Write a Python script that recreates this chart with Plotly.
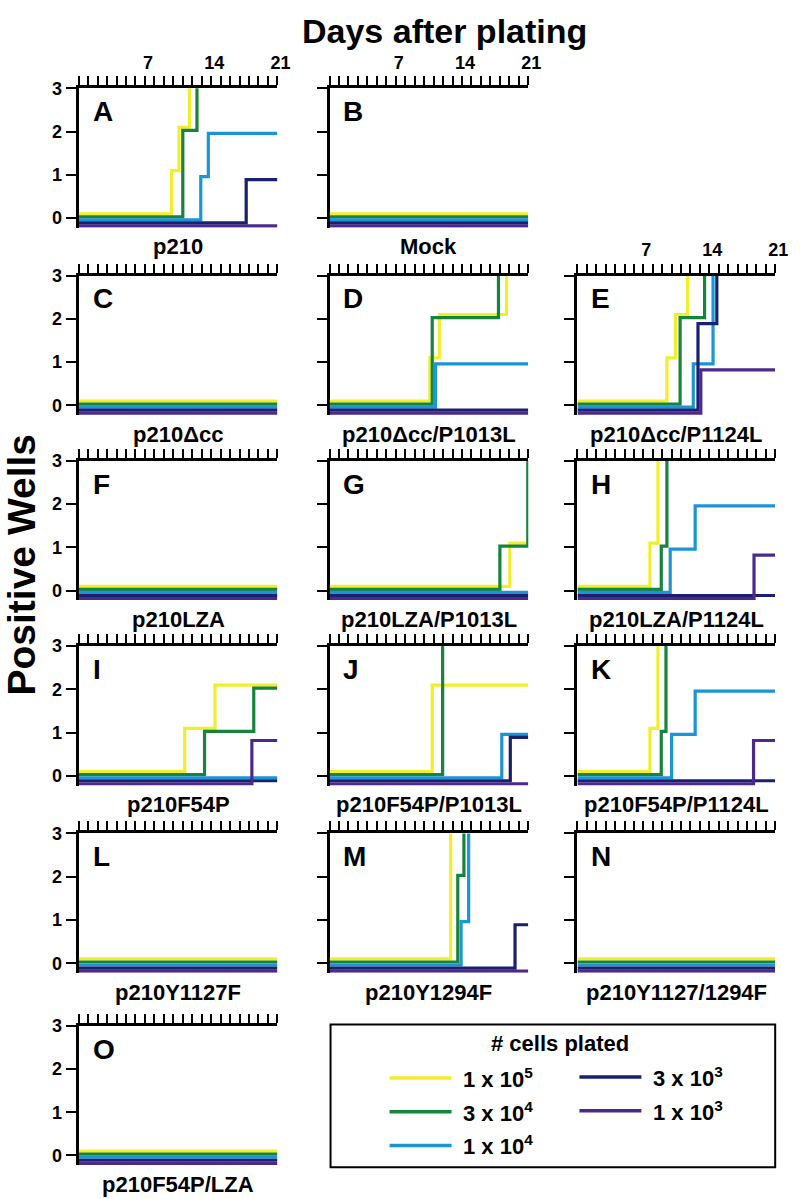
import plotly.graph_objects as go

W, H = 800, 1199

# ---------------- data ----------------
series_names = ["1 x 10<sup>5</sup>", "3 x 10<sup>4</sup>", "1 x 10<sup>4</sup>",
                "3 x 10<sup>3</sup>", "1 x 10<sup>3</sup>"]
series_colors = ["#f3ee2c", "#16843c", "#1c95d6", "#1a206e", "#4c2a8b"]

panel_letters = list("ABCDEFGHIJKLMNO")
panel_titles = ["p210", "Mock", "p210\u0394cc", "p210\u0394cc/P1013L", "p210\u0394cc/P1124L",
                "p210LZA", "p210LZA/P1013L", "p210LZA/P1124L",
                "p210F54P", "p210F54P/P1013L", "p210F54P/P1124L",
                "p210Y1127F", "p210Y1294F", "p210Y1127/1294F", "p210F54P/LZA"]

day_ticks = list(range(0, 22))
day_labels = [7, 14, 21]
well_ticks = [0, 1, 2, 3]
last_day = 21
max_wells = 3

# per panel, per series (1e5, 3e4, 1e4, 3e3, 1e3):
# days on which the positive-well count changes, and the count from that day on
A_days = [[0, 9.8, 10.6, 11.7], [0, 11.0, 12.5], [0, 12.9, 13.7], [0, 17.7], [0]]
A_counts = [[0, 1, 2, 3], [0, 2, 3], [0, 1, 2], [0, 1], [0]]
B_days = [[0], [0], [0], [0], [0]]
B_counts = [[0], [0], [0], [0], [0]]
C_days = [[0], [0], [0], [0], [0]]
C_counts = [[0], [0], [0], [0], [0]]
D_days = [[0, 10.6, 11.6, 18.7], [0, 10.85, 17.85], [0, 11.2], [0], [0]]
D_counts = [[0, 1, 2, 3], [0, 2, 3], [0, 1], [0], [0]]
E_days = [[0, 9.5, 10.4, 11.7], [0, 10.9, 13.5], [0, 12.3, 14.4], [0, 12.8, 14.8], [0, 13.1]]
E_counts = [[0, 1, 2, 3], [0, 2, 3], [0, 1, 3], [0, 2, 3], [0, 1]]
F_days = [[0], [0], [0], [0], [0]]
F_counts = [[0], [0], [0], [0], [0]]
G_days = [[0, 19.05], [0, 18.0, 20.95], [0], [0], [0]]
G_counts = [[0, 1], [0, 1, 3], [0], [0], [0]]
H_days = [[0, 7.7, 8.55], [0, 8.9, 9.5], [0, 9.85, 12.5], [0], [0, 18.75]]
H_counts = [[0, 1, 3], [0, 1, 3], [0, 1, 2], [0], [0, 1]]
I_days = [[0, 11.2, 14.4], [0, 13.3, 18.5], [0], [0], [0, 18.3]]
I_counts = [[0, 1, 2], [0, 1, 2], [0], [0], [0, 1]]
J_days = [[0, 10.85], [0, 11.95], [0, 18.2], [0, 19.1], [0]]
J_counts = [[0, 2], [0, 3], [0, 1], [0, 1], [0]]
K_days = [[0, 7.7, 8.55], [0, 8.9, 9.4], [0, 10.0, 12.5], [0], [0, 18.7]]
K_counts = [[0, 1, 3], [0, 1, 3], [0, 1, 2], [0], [0, 1]]
L_days = [[0], [0], [0], [0], [0]]
L_counts = [[0], [0], [0], [0], [0]]
M_days = [[0, 12.8], [0, 13.55, 14.2], [0, 13.9, 14.7], [0, 19.6], [0]]
M_counts = [[0, 3], [0, 2, 3], [0, 1, 3], [0, 1], [0]]
N_days = [[0], [0], [0], [0], [0]]
N_counts = [[0], [0], [0], [0], [0]]
O_days = [[0], [0], [0], [0], [0]]
O_counts = [[0], [0], [0], [0], [0]]

panel_days = [A_days, B_days, C_days, D_days, E_days, F_days, G_days, H_days,
              I_days, J_days, K_days, L_days, M_days, N_days, O_days]
panel_counts = [A_counts, B_counts, C_counts, D_counts, E_counts, F_counts, G_counts,
                H_counts, I_counts, J_counts, K_counts, L_counts, M_counts, N_counts, O_counts]

# ---------------- layout / style ----------------
panel_cells = [(0, 0), (0, 1), (1, 0), (1, 1), (1, 2), (2, 0), (2, 1), (2, 2),
               (3, 0), (3, 1), (3, 2), (4, 0), (4, 1), (4, 2), (5, 0)]
col_left = [80, 335, 587]
col_right = [282, 537, 788]
row_top = [79, 268, 455, 642, 831, 1025]
unit_px = 43.7
y_min = -0.22
series_offsets = [0.10, 0.03, -0.04, -0.11, -0.18]
FONT = "Liberation Sans, Arial, Helvetica, sans-serif"


def px_x(p):
    return p / W


def px_y(p):
    return 1 - p / H


def shown_level(v, s):
    # a full plate (3 wells) runs into the top frame, as in the original figure
    return v + series_offsets[s] if v < max_wells else max_wells + 0.5


col_top_panel = {}
for i, (r, c) in enumerate(panel_cells):
    if c not in col_top_panel or r < panel_cells[col_top_panel[c]][0]:
        col_top_panel[c] = i

fig = go.Figure()
annotations = []
shapes = []

for i, (r, c) in enumerate(panel_cells):
    n = i + 1
    xa = "xaxis" if n == 1 else f"xaxis{n}"
    ya = "yaxis" if n == 1 else f"yaxis{n}"
    xr = "x" if n == 1 else f"x{n}"
    yr = "y" if n == 1 else f"y{n}"

    for s in range(5):
        d = panel_days[i][s] + [last_day]
        v = panel_counts[i][s] + [panel_counts[i][s][-1]]
        fig.add_trace(go.Scatter(
            x=d, y=[shown_level(val, s) for val in v],
            mode="lines", line=dict(color=series_colors[s], width=3.2, shape="hv"),
            xaxis=xr, yaxis=yr, showlegend=False, hoverinfo="skip"))

    top = row_top[r]
    y0 = top + 3 * unit_px
    bottom = y0 - y_min * unit_px
    show_x_labels = (col_top_panel[c] == i)
    fig.layout[xa] = dict(
        domain=[px_x(col_left[c]), px_x(col_right[c])], range=[0, last_day],
        anchor=yr, side="top", showline=True, linewidth=3, linecolor="black",
        ticks="outside", ticklen=9, tickwidth=1.5, tickcolor="black",
        tickvals=day_ticks, tickangle=0, ticklabelshift=3,
        ticktext=[str(t) if (t in day_labels and show_x_labels) else "" for t in day_ticks],
        tickfont=dict(family=FONT, size=18, color="black", weight="bold"),
        showgrid=False, zeroline=False, fixedrange=True)
    fig.layout[ya] = dict(
        domain=[px_y(bottom), px_y(top)], range=[y_min, 3], anchor=xr,
        showline=True, linewidth=3, linecolor="black", layer="below traces",
        ticks="outside", ticklen=10, tickwidth=2, tickcolor="black",
        tickvals=well_ticks, showticklabels=(c == 0), tickangle=0,
        tickfont=dict(family=FONT, size=18, color="black", weight="bold"),
        showgrid=False, zeroline=False, fixedrange=True)

    annotations.append(dict(
        x=px_x(col_left[c] + 12), y=px_y(top + 6), xref="paper", yref="paper",
        xanchor="left", yanchor="top", text=panel_letters[i], showarrow=False,
        font=dict(family=FONT, size=28, color="black", weight="bold")))
    annotations.append(dict(
        x=px_x((col_left[c] + col_right[c]) / 2), y=px_y(y0 + 29), xref="paper", yref="paper",
        xanchor="center", yanchor="middle", text=panel_titles[i], showarrow=False,
        font=dict(family=FONT, size=22, color="black", weight="bold")))

annotations.append(dict(
    x=px_x(452), y=px_y(21), xref="paper", yref="paper", xanchor="center", yanchor="middle",
    text="Days after plating", showarrow=False,
    font=dict(family=FONT, size=34, color="black", weight="bold")))
annotations.append(dict(
    x=px_x(22), y=px_y(560), xref="paper", yref="paper", xanchor="center", yanchor="middle",
    text="Positive Wells", textangle=-90, showarrow=False,
    font=dict(family=FONT, size=39, color="black", weight="bold")))

# legend box
shapes.append(dict(type="rect", xref="paper", yref="paper",
                   x0=px_x(336), x1=px_x(788), y0=px_y(1168), y1=px_y(1024),
                   line=dict(color="black", width=2)))
annotations.append(dict(
    x=px_x(569), y=px_y(1043), xref="paper", yref="paper", xanchor="center", yanchor="middle",
    text="# cells plated", showarrow=False,
    font=dict(family=FONT, size=22, color="black", weight="bold")))
legend_pos = [(396, 1078), (396, 1112), (396, 1146), (589, 1077), (589, 1111)]
for s, (lx, ly) in enumerate(legend_pos):
    shapes.append(dict(type="line", xref="paper", yref="paper",
                       x0=px_x(lx), x1=px_x(lx + 63), y0=px_y(ly), y1=px_y(ly),
                       line=dict(color=series_colors[s], width=3.5)))
    annotations.append(dict(
        x=px_x(lx + 73), y=px_y(ly), xref="paper", yref="paper", xanchor="left",
        yanchor="middle", text=series_names[s], showarrow=False,
        font=dict(family=FONT, size=22, color="black", weight="bold")))

fig.update_layout(
    width=W, height=H, margin=dict(l=0, r=0, t=0, b=0),
    paper_bgcolor="white", plot_bgcolor="white",
    annotations=annotations, shapes=shapes, showlegend=False)

fig.write_html("out.html", config={"displayModeBar": False},
               post_script="document.body.style.margin='0';document.body.style.overflow='hidden';")
